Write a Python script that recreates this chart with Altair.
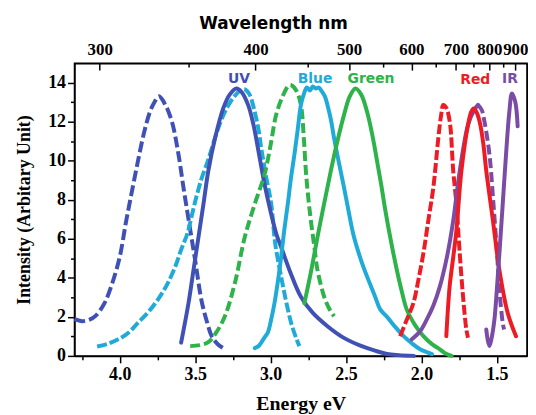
import altair as alt
import pandas as pd

# ---- data (energy in eV, intensity in arbitrary units) ----
UV_EXC_E = [4.30, 4.25, 4.20, 4.16, 4.10, 4.05, 4.00, 3.96, 3.92, 3.88, 3.84, 3.80, 3.77, 3.74, 3.70, 3.654, 3.61, 3.577, 3.544, 3.50, 3.457, 3.42, 3.39, 3.35, 3.30]
UV_EXC_I = [1.88, 1.78, 1.86, 2.05, 2.72, 3.72, 5.07, 6.8, 8.4, 9.95, 11.4, 12.5, 13.0, 13.3, 12.9, 12.0, 10.3, 8.6, 7.0, 4.9, 2.8, 1.7, 1.0, 0.6, 0.34]

UV_EM_E = [3.593, 3.544, 3.511, 3.478, 3.445, 3.413, 3.368, 3.314, 3.27, 3.226, 3.19, 3.149, 3.115, 3.084, 3.04, 3.00, 2.96, 2.93, 2.87, 2.80, 2.72, 2.623, 2.52, 2.40, 2.30, 2.228, 2.15, 2.05]
UV_EM_I = [0.68, 2.71, 4.4, 6.09, 7.78, 9.47, 11.16, 12.68, 13.4, 13.7, 13.5, 12.86, 11.9, 10.65, 8.8, 7.4, 6.2, 5.58, 4.3, 3.04, 2.2, 1.52, 0.95, 0.51, 0.25, 0.1, 0.04, 0.0]

BLUE_EXC_E = [4.15, 4.08, 4.01, 3.94, 3.88, 3.81, 3.746, 3.69, 3.636, 3.59, 3.55, 3.522, 3.49, 3.457, 3.42, 3.391, 3.35, 3.303, 3.25, 3.20, 3.17, 3.14, 3.105, 3.08, 3.062, 3.03, 2.996, 2.97, 2.93, 2.90, 2.864, 2.83, 2.809]
BLUE_EXC_I = [0.48, 0.62, 0.85, 1.2, 1.69, 2.25, 2.9, 3.6, 4.5, 5.5, 6.3, 7.2, 8.2, 9.1, 9.9, 10.6, 11.6, 12.5, 13.2, 13.6, 13.65, 13.4, 12.5, 11.6, 10.65, 9.2, 7.8, 5.8, 4.06, 2.9, 1.7, 0.9, 0.5]

BLUE_EM_E = [3.105, 3.08, 3.062, 3.04, 3.018, 2.995, 2.974, 2.95, 2.93, 2.91, 2.886, 2.865, 2.842, 2.82, 2.799, 2.78, 2.76, 2.74, 2.72, 2.70, 2.68, 2.66, 2.64, 2.623, 2.60, 2.579, 2.547, 2.513, 2.48, 2.447, 2.40, 2.36, 2.31, 2.272, 2.228, 2.17, 2.118, 2.06, 2.009, 1.96, 1.93]
BLUE_EM_I = [0.4, 0.5, 0.68, 0.95, 1.2, 1.9, 2.71, 3.9, 5.07, 6.4, 7.78, 9.1, 10.32, 11.6, 12.86, 13.4, 13.75, 13.6, 13.8, 13.7, 13.75, 13.55, 13.3, 12.86, 12.1, 11.16, 9.9, 8.62, 7.3, 6.09, 4.9, 4.06, 3.1, 2.37, 2.0, 1.45, 1.01, 0.62, 0.34, 0.18, 0.09]

GREEN_EXC_E = [3.533, 3.47, 3.413, 3.36, 3.303, 3.237, 3.171, 3.105, 3.04, 3.00, 2.963, 2.92, 2.88, 2.864, 2.83, 2.799, 2.78, 2.766, 2.75, 2.733, 2.71, 2.689, 2.645, 2.61, 2.579]
GREEN_EXC_I = [0.5, 0.55, 0.7, 1.2, 2.03, 3.72, 6.09, 7.78, 9.3, 10.8, 12.35, 13.3, 13.85, 13.87, 13.6, 12.86, 11.2, 9.47, 8.1, 6.94, 5.6, 4.4, 3.04, 2.4, 2.03]

GREEN_EM_E = [2.776, 2.73, 2.689, 2.645, 2.601, 2.557, 2.513, 2.475, 2.437, 2.40, 2.36, 2.325, 2.294, 2.265, 2.239, 2.20, 2.163, 2.13, 2.097, 2.04, 1.987, 1.93, 1.878, 1.84, 1.80]
GREEN_EM_I = [2.7, 4.4, 6.09, 7.8, 9.47, 11.0, 12.35, 13.3, 13.7, 13.4, 12.5, 11.3, 9.98, 8.7, 7.44, 5.8, 4.4, 3.3, 2.37, 1.55, 1.01, 0.6, 0.34, 0.12, 0.0]

RED_EXC_E = [2.141, 2.10, 2.053, 2.02, 1.987, 1.955, 1.921, 1.888, 1.87, 1.855, 1.835, 1.812, 1.789, 1.768, 1.746, 1.724, 1.702, 1.691]
RED_EXC_I = [1.01, 1.8, 2.71, 3.9, 5.25, 6.9, 8.63, 11.16, 12.3, 12.86, 12.7, 12.0, 9.47, 7.78, 5.25, 3.04, 1.35, 0.93]

RED_EM_E = [1.835, 1.813, 1.79, 1.768, 1.735, 1.691, 1.67, 1.654, 1.635, 1.614, 1.59, 1.57, 1.526, 1.483, 1.428, 1.373]
RED_EM_I = [1.01, 3.55, 5.0, 6.43, 9.47, 11.84, 12.5, 12.68, 12.5, 12.0, 10.9, 9.47, 6.94, 4.4, 2.2, 1.01]

IR_EXC_E = [2.064, 2.01, 1.965, 1.92, 1.878, 1.83, 1.789, 1.746, 1.691, 1.65, 1.625]
IR_EXC_I = [0.85, 1.25, 1.86, 2.6, 3.55, 5.1, 6.94, 9.47, 11.84, 12.6, 12.86]
IR_EXC_TAIL_E = [1.625, 1.60, 1.582, 1.549, 1.524, 1.50, 1.483, 1.461, 1.452]
IR_EXC_TAIL_I = [12.86, 12.6, 12.0, 10.32, 7.95, 5.41, 3.38, 1.7, 1.35]

IR_EM_E = [1.57, 1.56, 1.549, 1.535, 1.516, 1.50, 1.483, 1.461, 1.439, 1.417, 1.40, 1.378, 1.362]
IR_EM_I = [1.35, 0.8, 0.51, 0.9, 1.86, 3.4, 5.25, 7.78, 10.32, 12.52, 13.45, 13.02, 11.76]

LABEL_TEXT = ["UV", "Blue", "Green", "Red", "IR"]
LABEL_E = [3.209, 2.705, 2.334, 1.643, 1.413]
LABEL_I = [14.17, 14.17, 14.17, 14.11, 14.17]

WAVELENGTH_MAJOR = [300, 400, 500, 600, 700, 800, 900]
WAVELENGTH_MINOR = [350, 450, 550, 650, 750, 850]

# ---- styling ----
C_UV = "#3F51B5"
C_BLUE = "#1FAAD8"
C_GREEN = "#2EB24A"
C_RED = "#ED1C24"
C_IR = "#7A4CA6"
LABEL_COLOR = [C_UV, C_BLUE, C_GREEN, C_RED, C_IR]

SERIES = [
    ("UV exc", UV_EXC_E, UV_EXC_I, C_UV, [11, 4]),
    ("Blue exc", BLUE_EXC_E, BLUE_EXC_I, C_BLUE, [10, 3]),
    ("UV em", UV_EM_E, UV_EM_I, C_UV, None),
    ("Green exc", GREEN_EXC_E, GREEN_EXC_I, C_GREEN, [10, 4]),
    ("Blue em", BLUE_EM_E, BLUE_EM_I, C_BLUE, None),
    ("Green em", GREEN_EM_E, GREEN_EM_I, C_GREEN, None),
    ("Red exc", RED_EXC_E, RED_EXC_I, C_RED, [10, 3]),
    ("IR exc", IR_EXC_E, IR_EXC_I, C_IR, None),
    ("IR exc tail", IR_EXC_TAIL_E, IR_EXC_TAIL_I, C_IR, [10, 4]),
    ("Red em", RED_EM_E, RED_EM_I, C_RED, None),
    ("IR em", IR_EM_E, IR_EM_I, C_IR, None),
]

HC = 1239.84
xscale = alt.Scale(domain=[1.3, 4.3], reverse=True, nice=False, zero=False)
yscale = alt.Scale(domain=[0, 15], nice=False, zero=True)

bottom_vals = [4.25, 4.0, 3.75, 3.5, 3.25, 3.0, 2.75, 2.5, 2.25, 2.0, 1.75, 1.5]
left_vals = list(range(0, 15))

bottom_axis = alt.Axis(
    orient="bottom", values=bottom_vals, title="Energy eV",
    labelExpr="abs(datum.value*2 - round(datum.value*2)) < 0.001 ? format(datum.value, '.1f') : ''",
    tickSize={"condition": {"test": "abs(datum.value*2 - round(datum.value*2)) < 0.001", "value": 7}, "value": 4},
    labelPadding=3, titlePadding=10, titleFontSize=20, grid=False, labelOverlap=False,
)
left_axis = alt.Axis(
    orient="left", values=left_vals, title="Intensity (Arbitary Unit)",
    labelExpr="datum.value % 2 == 0 ? datum.value : ''",
    tickSize={"condition": {"test": "datum.value % 2 == 0", "value": 7}, "value": 4},
    labelPadding=2, titlePadding=14, titleFontSize=18, grid=False, labelOverlap=False,
)

layers = []
for name, E, I, color, dash in SERIES:
    df = pd.DataFrame({"E": E, "I": I, "idx": list(range(len(E)))})
    kw = dict(color=color, strokeWidth=4, interpolate="catmull-rom")
    if dash:
        kw["strokeDash"] = dash
        kw["strokeCap"] = "butt"
    else:
        kw["strokeCap"] = "round"
    layers.append(
        alt.Chart(df).mark_line(**kw).encode(
            x=alt.X("E:Q", scale=xscale, axis=bottom_axis),
            y=alt.Y("I:Q", scale=yscale, axis=left_axis),
            order="idx:Q",
        )
    )
lines = alt.layer(*layers)

major_df = pd.DataFrame({"E": [HC / w for w in WAVELENGTH_MAJOR]})
minor_df = pd.DataFrame({"E": [HC / w for w in WAVELENGTH_MINOR]})

top_major = alt.Chart(major_df).mark_point(opacity=0).encode(
    x=alt.X("E:Q", scale=xscale, axis=alt.Axis(
        orient="top", values=[HC / w for w in WAVELENGTH_MAJOR], title="Wavelength nm",
        labelExpr="format(1239.84/datum.value, '.0f')", labelOverlap=False, labelFontSize=17,
        offset=-7, tickSize=7, domain=False, labelPadding=5, grid=False,
        titleFont="DejaVu Sans", titleFontSize=17, titlePadding=8,
        titleX=200, titleAnchor="start", titleAlign="center",
    ))
)
top_minor = alt.Chart(minor_df).mark_point(opacity=0).encode(
    x=alt.X("E:Q", scale=xscale, axis=alt.Axis(
        orient="top", values=[HC / w for w in WAVELENGTH_MINOR], title=None,
        labels=False, offset=-4, tickSize=4, domain=False, grid=False,
    ))
)

lab_df = pd.DataFrame({"t": LABEL_TEXT, "E": LABEL_E, "I": LABEL_I, "c": LABEL_COLOR})

# frame: top border line and right border line drawn as bare axis domains
frame = alt.Chart(lab_df).mark_point(opacity=0).encode(
    x=alt.X("E:Q", scale=xscale, axis=alt.Axis(
        orient="top", ticks=False, labels=False, domain=True, title=None, grid=False)),
    y=alt.Y("I:Q", scale=yscale, axis=alt.Axis(
        orient="right", ticks=False, labels=False, domain=True, title=None, grid=False)),
)

labels = alt.Chart(lab_df).mark_text(
    font="DejaVu Sans", fontWeight="bold", fontSize=14, baseline="middle", align="center"
).encode(
    x=alt.X("E:Q", scale=xscale, axis=None),
    y=alt.Y("I:Q", scale=yscale, axis=None),
    text="t:N",
    color=alt.Color("c:N", scale=None),
)

chart = alt.layer(lines, frame, top_major, top_minor, labels).resolve_scale(
    x="shared", y="shared"
).resolve_axis(x="independent", y="independent").properties(
    width=456, height=295, background="white", padding={"left": 8, "top": 5, "right": 0, "bottom": 0}
).configure_view(
    stroke="black", strokeWidth=1.5
).configure_axis(
    labelFont="Liberation Serif", labelFontWeight="bold", labelFontSize=18, labelColor="black",
    titleFont="Liberation Serif", titleFontWeight="bold", titleColor="black",
    tickColor="black", domainColor="black", tickWidth=1.5, domainWidth=1.5,
)

chart.save("out.html", embed_options={"renderer": "svg", "actions": False})
